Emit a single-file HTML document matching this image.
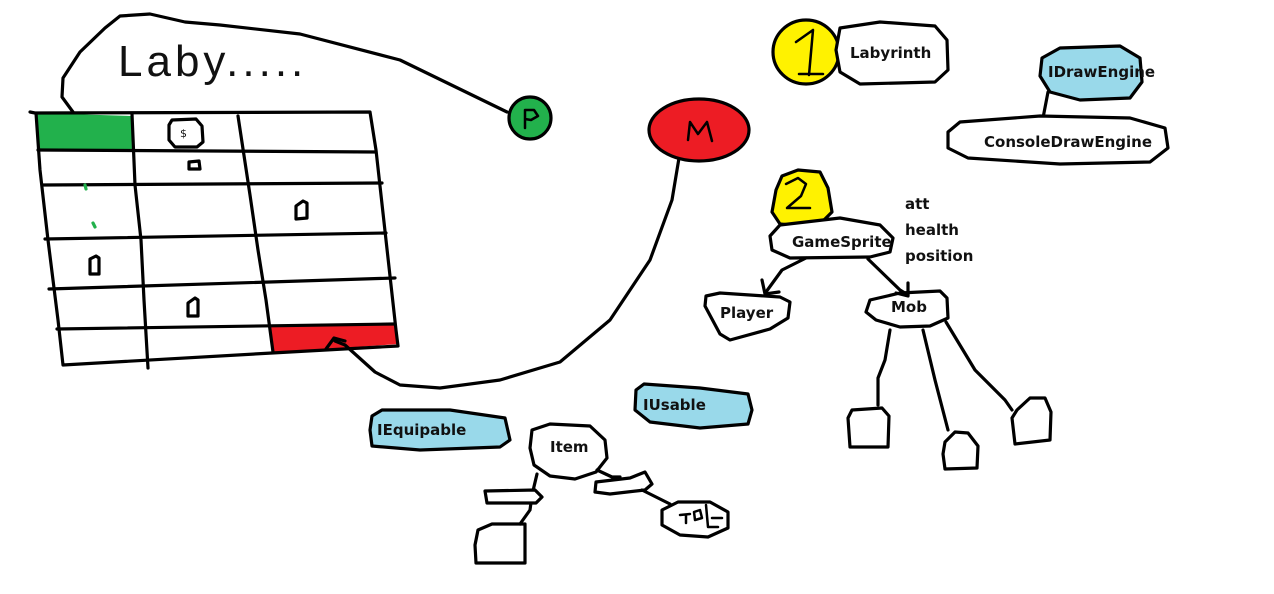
<!DOCTYPE html>
<html><head><meta charset="utf-8"><style>
html,body{margin:0;padding:0;background:#fff;width:1274px;height:594px;overflow:hidden}
svg{display:block}
text{font-family:"DejaVu Sans","Liberation Sans",sans-serif;font-weight:bold;fill:#111}
</style></head><body>
<svg width="1274" height="594" viewBox="0 0 1274 594" xmlns="http://www.w3.org/2000/svg">
<g fill="none" stroke="#000" stroke-width="3.2" stroke-linecap="round" stroke-linejoin="round">
<path d="M73,138 L73,112 L62,97 L63,78 L80,52 L105,28 L120,16 L150,14 L185,22 L220,25 L300,34 L400,60 L507,112"/>
<path d="M64,126 L72,138 L79,128"/>
<path d="M36,113 L131,116 L132,149 L38,150 Z" fill="#22b14c" stroke="none"/>
<path d="M271,327 L396,324 L398,344 L273,353 Z" fill="#ed1c24" stroke="none"/>
<path d="M30,112 L35,113 L370,112 L376,150 L386,240 L396,330 L398,346 L272,353 L63,365 L58,320 L48,240 L40,170 L36,113"/>
<path d="M38,150 L376,152"/>
<path d="M43,185 L382,183"/>
<path d="M45,239 L386,233"/>
<path d="M49,289 L395,278"/>
<path d="M57,329 L394,324"/>
<path d="M132,114 L135,185 L141,240 L144,300 L148,368"/>
<path d="M238,116 L250,195 L258,250 L266,300 L273,352"/>
<path d="M172,120 L196,119 L202,126 L203,142 L197,147 L175,147 L169,140 L169,125 Z"/>
<path d="M189,162 L199,161 L200,169 L189,169 Z"/>
<path d="M296,206 L303,201 L307,203 L307,218 L296,219 Z"/>
<path d="M90,259 L96,256 L99,258 L99,274 L90,274 Z"/>
<path d="M188,303 L195,298 L198,300 L198,316 L188,316 Z"/>
<path d="M85,185 L86,189" stroke="#22b14c"/>
<path d="M93,223 L95,227" stroke="#22b14c"/>
<path d="M680,152 L672,200 L650,260 L610,320 L560,362 L500,380 L440,388 L400,385 L375,372 L345,345 L335,341"/>
<path d="M326,349 L334,338 L345,341"/>
<circle cx="530" cy="118" r="21" fill="#22b14c"/>
<path d="M525,128 L525,110 L534,110 L538,116 L531,120 L525,119" stroke-width="2.5"/>
<ellipse cx="699" cy="130" rx="50" ry="31" fill="#ed1c24"/>
<path d="M688,140 L690,122 L698,134 L707,122 L712,141" stroke-width="2.5"/>
<ellipse cx="806" cy="52" rx="33" ry="32" fill="#fff200"/>
<path d="M796,42 L813,30 L809,75 M799,74 L823,74" stroke-width="2.5"/>
<path d="M840,28 L880,22 L935,26 L947,40 L948,70 L935,82 L860,84 L840,72 L836,50 Z" fill="#fff"/>
<path d="M1042,58 L1060,48 L1120,46 L1140,58 L1142,82 L1130,98 L1080,100 L1050,92 L1040,76 Z" fill="#99d9ea"/>
<path d="M1048,92 L1043,118"/>
<path d="M960,122 L1040,116 L1130,118 L1165,128 L1168,148 L1150,162 L1060,164 L968,158 L948,148 L948,132 Z" fill="#fff"/>
<path d="M776,190 L782,176 L798,170 L820,172 L828,188 L832,212 L822,222 L800,226 L780,224 L772,212 Z" fill="#fff200"/>
<path d="M786,184 L798,178 L806,184 L801,196 L787,208 L810,208" stroke-width="2.5"/>
<path d="M780,225 L840,218 L880,225 L893,238 L890,252 L870,257 L790,258 L772,250 L770,236 Z" fill="#fff"/>
<path d="M806,258 L782,270 L766,292"/>
<path d="M762,280 L765,294 L779,292"/>
<path d="M868,259 L900,290 L908,295"/>
<path d="M908,283 L908,296 L896,293"/>
<path d="M706,296 L720,293 L780,297 L790,302 L788,318 L770,329 L730,340 L720,334 L705,306 Z"/>
<path d="M870,300 L900,293 L940,291 L947,298 L948,318 L930,326 L900,327 L876,320 L866,312 Z"/>
<path d="M890,330 L885,360 L878,378 L878,405"/>
<path d="M923,330 L935,380 L948,430"/>
<path d="M946,322 L975,370 L1005,400 L1012,410"/>
<path d="M852,410 L882,408 L889,416 L888,447 L850,447 L848,418 Z"/>
<path d="M945,442 L955,432 L968,433 L978,446 L977,468 L945,469 L943,454 Z"/>
<path d="M1017,410 L1030,398 L1045,398 L1051,412 L1050,440 L1015,444 L1012,418 Z"/>
<path d="M636,390 L644,384 L700,388 L748,394 L752,410 L748,424 L700,428 L650,422 L635,410 Z" fill="#99d9ea"/>
<path d="M372,416 L382,410 L450,410 L505,418 L510,440 L500,447 L420,450 L372,446 L370,430 Z" fill="#99d9ea"/>
<path d="M532,430 L550,424 L590,426 L605,440 L607,458 L596,472 L575,479 L550,476 L534,465 L530,448 Z" fill="#fff"/>
<path d="M537,474 L532,495 L530,510 L520,524"/>
<path d="M597,470 L612,477 L620,477"/>
<path d="M485,491 L535,490 L542,497 L536,503 L487,503 Z" fill="#fff"/>
<path d="M596,482 L630,478 L645,472 L652,484 L645,490 L610,494 L595,492 Z" fill="#fff"/>
<path d="M642,490 L670,504"/>
<path d="M478,530 L492,524 L525,524 L525,563 L476,563 L475,545 Z"/>
<path d="M662,510 L678,502 L710,502 L728,512 L728,528 L708,537 L680,535 L662,525 Z"/>
<path d="M680,515 L690,514 M686,515 L686,523 M694,512 L700,510 L702,518 L695,520 Z M706,505 L708,527 L718,527 M712,518 L722,518" stroke-width="2.5"/>
</g>
<text x="118" y="76" style="font-family:'Liberation Sans',sans-serif;font-weight:normal;font-size:44px;letter-spacing:4px">Laby.....</text>
<text x="180" y="137" style="font-size:11px;font-weight:normal" fill="#c47a00">$</text>
<g>
<text x="850" y="58" font-size="15">Labyrinth</text>
<text x="1048" y="77" font-size="15">IDrawEngine</text>
<text x="984" y="147" font-size="15">ConsoleDrawEngine</text>
<text x="905" y="209" font-size="15">att</text>
<text x="905" y="235" font-size="15">health</text>
<text x="905" y="261" font-size="15">position</text>
<text x="792" y="247" font-size="15">GameSprite</text>
<text x="720" y="318" font-size="15">Player</text>
<text x="891" y="312" font-size="15">Mob</text>
<text x="643" y="410" font-size="15">IUsable</text>
<text x="377" y="435" font-size="15">IEquipable</text>
<text x="550" y="452" font-size="15">Item</text>
</g>
</svg>
</body></html>
